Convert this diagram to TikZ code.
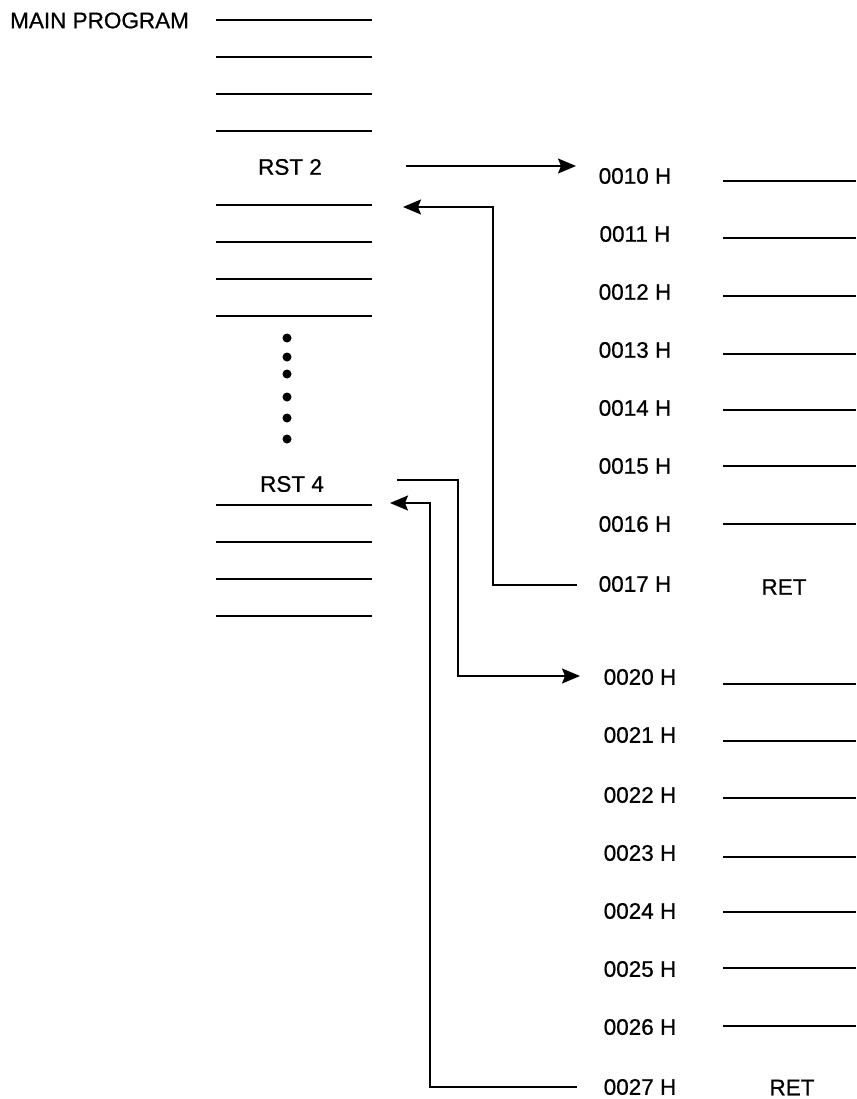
\documentclass[tikz,border=0pt]{standalone}
\usepackage{fontspec}
\setmainfont{Liberation Sans}[FakeBold=0.7]
\usetikzlibrary{positioning, arrows.meta, calc}

\begin{document}
\begin{tikzpicture}[x=1pt, y=-1pt, font=\fontsize{22.5}{26}\selectfont,
  lbl/.style={inner sep=0pt, anchor=center},
  slot/.style={line width=1.8pt},
  jump/.style={line width=1.8pt, -{Stealth[length=18pt, width=15pt, inset=3pt]}}]
  \useasboundingbox (0,0) rectangle (856,1099);
  % main program
  \node[lbl, anchor=west] (main) at (10,20.5) {MAIN PROGRAM};
  \foreach \y in {20,57,94,131,205,242,279,316,505,542,579,616}
    \draw[slot] (216,\y) -- (372,\y);
  \node[lbl] (rst2) at (290,167) {RST 2};
  \node[lbl] (rst4) at (292,484) {RST 4};
  \foreach \y in {338,357,374,397,418,439}
    \fill (287,\y) circle (4.5);
  % service routines
  \foreach \n/\y in {10/176,11/234,12/292,13/350,14/408,15/466,16/524,17/584}
    \node[lbl] (a\n) at (635,\y) {00\n\ H};
  \foreach \n/\y in {20/677,21/735,22/795,23/853,24/911,25/969,26/1027,27/1087}
    \node[lbl] (a\n) at (640,\y) {00\n\ H};
  \foreach \y in {181,238,296,354,410,466,524,684,741,798,857,912,968,1026}
    \draw[slot] (723,\y) -- (856,\y);
  \node[lbl] (ret1) at (784,587) {RET};
  \node[lbl] (ret2) at (792,1087.5) {RET};
  % calls and returns
  \coordinate (c2out) at (406,166);
  \coordinate (c2in) at (576,166);
  \coordinate (r17) at (577,585);
  \coordinate (r2) at (403,207);
  \coordinate (c4out) at (397,480);
  \coordinate (c4in) at (580,676);
  \coordinate (r27) at (577,1087);
  \coordinate (r4) at (390,503);
  \draw[jump] (c2out) -- (c2in);
  \draw[jump] (r17) -- (493,585) |- (r2);
  \draw[jump] (c4out) -| (458,676) -- (c4in);
  \draw[jump] (r27) -- (430,1087) |- (r4);
\end{tikzpicture}
\end{document}
